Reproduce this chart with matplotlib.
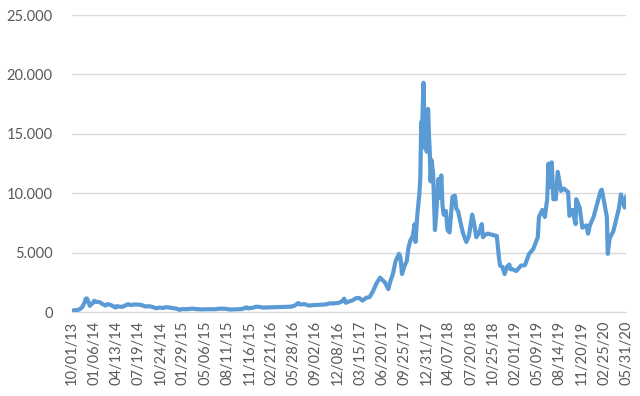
"""
Price history line chart, Oct 2013 - May 2020
"""

import numpy as np
import pandas as pd
import matplotlib
matplotlib.use("Agg")
import matplotlib.pyplot as plt
from matplotlib.ticker import FuncFormatter

plt.rcParams['font.family'] = ['Lato', 'DejaVu Sans']

# category axis labels (Excel shows every 97th row)
tick_labels = ['10/01/13', '01/06/14', '04/13/14', '07/19/14', '10/24/14', '01/29/15',
               '05/06/15', '08/11/15', '11/16/15', '02/21/16', '05/28/16', '09/02/16',
               '12/08/16', '03/15/17', '06/20/17', '09/25/17', '12/31/17', '04/07/18',
               '07/20/18', '10/25/18', '02/01/19', '05/09/19', '08/14/19', '11/20/19',
               '02/25/20', '05/31/20']

# price readings
dates = [
    '2013-10-01', '2013-10-15', '2013-11-01', '2013-11-15', '2013-11-25', '2013-11-30',
    '2013-12-05', '2013-12-10', '2013-12-18', '2013-12-24', '2014-01-01', '2014-01-06',
    '2014-01-15', '2014-01-31', '2014-02-10', '2014-02-25', '2014-03-05', '2014-03-20',
    '2014-04-10', '2014-04-15', '2014-04-25', '2014-05-10', '2014-05-25', '2014-06-03',
    '2014-06-15', '2014-07-01', '2014-07-20', '2014-08-01', '2014-08-18', '2014-09-05',
    '2014-09-22', '2014-10-05', '2014-10-20', '2014-11-05', '2014-11-15', '2014-12-01',
    '2014-12-20', '2015-01-05', '2015-01-14', '2015-01-25', '2015-02-15', '2015-03-10',
    '2015-03-31', '2015-04-20', '2015-05-15', '2015-06-15', '2015-07-10', '2015-08-01',
    '2015-08-25', '2015-09-15', '2015-10-15', '2015-11-04', '2015-11-11', '2015-12-01',
    '2015-12-15', '2016-01-01', '2016-01-15', '2016-02-15', '2016-03-15', '2016-04-15',
    '2016-05-15', '2016-06-01', '2016-06-17', '2016-06-25', '2016-07-15', '2016-08-02',
    '2016-08-20', '2016-09-15', '2016-10-15', '2016-11-01', '2016-11-20', '2016-12-10',
    '2016-12-25', '2017-01-04', '2017-01-11', '2017-01-25', '2017-02-10', '2017-02-25',
    '2017-03-10', '2017-03-25', '2017-04-10', '2017-04-25', '2017-05-10', '2017-05-25',
    '2017-06-10', '2017-06-20', '2017-07-01', '2017-07-16', '2017-07-25', '2017-08-05',
    '2017-08-17', '2017-09-01', '2017-09-07', '2017-09-14', '2017-09-25', '2017-10-05',
    '2017-10-12', '2017-10-20', '2017-10-31', '2017-11-08', '2017-11-12', '2017-11-20',
    '2017-11-29', '2017-12-03', '2017-12-07', '2017-12-10', '2017-12-13', '2017-12-17',
    '2017-12-19', '2017-12-22', '2017-12-27', '2017-12-31', '2018-01-06', '2018-01-10',
    '2018-01-13', '2018-01-17', '2018-01-21', '2018-01-28', '2018-02-05', '2018-02-10',
    '2018-02-20', '2018-02-25', '2018-03-05', '2018-03-10', '2018-03-15', '2018-03-25',
    '2018-04-01', '2018-04-10', '2018-04-24', '2018-05-05', '2018-05-12', '2018-05-20',
    '2018-06-01', '2018-06-10', '2018-06-15', '2018-06-28', '2018-07-10', '2018-07-25',
    '2018-08-01', '2018-08-12', '2018-08-25', '2018-09-05', '2018-09-10', '2018-09-20',
    '2018-10-01', '2018-10-20', '2018-11-10', '2018-11-20', '2018-11-25', '2018-12-05',
    '2018-12-15', '2018-12-25', '2019-01-05', '2019-01-10', '2019-01-20', '2019-02-05',
    '2019-02-25', '2019-03-15', '2019-04-02', '2019-04-20', '2019-05-10', '2019-05-15',
    '2019-05-30', '2019-06-10', '2019-06-20', '2019-06-26', '2019-07-01', '2019-07-10',
    '2019-07-17', '2019-07-28', '2019-08-05', '2019-08-20', '2019-09-01', '2019-09-20',
    '2019-09-26', '2019-10-10', '2019-10-23', '2019-10-26', '2019-11-10', '2019-11-22',
    '2019-12-10', '2019-12-17', '2019-12-25', '2020-01-10', '2020-01-20', '2020-02-10',
    '2020-02-15', '2020-02-25', '2020-03-08', '2020-03-12', '2020-03-20', '2020-04-05',
    '2020-04-29', '2020-05-08', '2020-05-15', '2020-05-24', '2020-05-31',
]
prices = [
    125, 150, 200, 420, 800, 1120,
    1150, 950, 520, 660, 770, 950,
    860, 830, 690, 540, 670, 590,
    380, 500, 460, 440, 580, 660,
    590, 640, 620, 590, 470, 490,
    400, 320, 380, 340, 410, 380,
    320, 275, 180, 250, 240, 290,
    245, 225, 237, 235, 285, 280,
    210, 230, 255, 400, 310, 360,
    450, 430, 375, 400, 415, 430,
    455, 535, 760, 640, 665, 545,
    580, 610, 640, 730, 730, 770,
    890, 1130, 780, 890, 990, 1170,
    1190, 960, 1200, 1260, 1750, 2400,
    2900, 2700, 2500, 1930, 2600, 3200,
    4300, 4900, 4600, 3200, 3900, 4300,
    5400, 6000, 6400, 7400, 5900, 8200,
    10000, 11300, 16000, 14500, 16900, 19300,
    17500, 13800, 15800, 13500, 17100, 14800,
    13700, 11000, 12800, 11700, 6900, 8100,
    11200, 9600, 11500, 9000, 8200, 8500,
    6900, 6700, 9700, 9800, 8700, 8500,
    7500, 6800, 6500, 5900, 6400, 8200,
    7600, 6300, 6700, 7400, 6300, 6500,
    6600, 6500, 6400, 4500, 3900, 3800,
    3200, 3800, 4000, 3600, 3600, 3450,
    3900, 3950, 4900, 5300, 6300, 8000,
    8600, 8000, 9500, 12500, 10500, 12600,
    9500, 9500, 11800, 10200, 10400, 10100,
    8100, 8600, 7400, 9500, 8800, 7100,
    7300, 6600, 7300, 8000, 8700, 10200,
    10300, 9300, 8000, 4900, 6200, 6800,
    8700, 9900, 9400, 8800, 9700,
]

# category axis: place each date between the labelled rows
tick_dates = pd.to_datetime(tick_labels, format='%m/%d/%y')
tick_ord = np.array([d.toordinal() for d in tick_dates])
data_ord = np.array([d.toordinal() for d in pd.to_datetime(dates)])
x = np.interp(data_ord, tick_ord, np.arange(len(tick_labels)))

fig = plt.figure(figsize=(6.4, 3.96), dpi=100)
ax = fig.add_axes([0.1125, 0.212, 0.866, 0.750])

ax.plot(x, prices, color='#5B9BD5', linewidth=3.0, solid_joinstyle='round')

ax.set_xlim(0, len(tick_labels) - 1)
ax.set_ylim(0, 25000)
ax.set_yticks(np.arange(0, 25001, 5000))
ax.yaxis.set_major_formatter(FuncFormatter(lambda v, p: f'{v:,.0f}'.replace(',', '.')))
ax.set_xticks(np.arange(len(tick_labels)))
ax.set_xticklabels(tick_labels, rotation=90)

ax.grid(axis='y', color='#D9D9D9', linewidth=1)
ax.set_axisbelow(True)
for s in ['top', 'right', 'left']:
    ax.spines[s].set_visible(False)
ax.spines['bottom'].set_color('#D9D9D9')
ax.tick_params(length=0, labelsize=10.5, colors='#595959', pad=6)
ax.tick_params(axis='y', pad=14)

fig.savefig('out.png', dpi=100)
